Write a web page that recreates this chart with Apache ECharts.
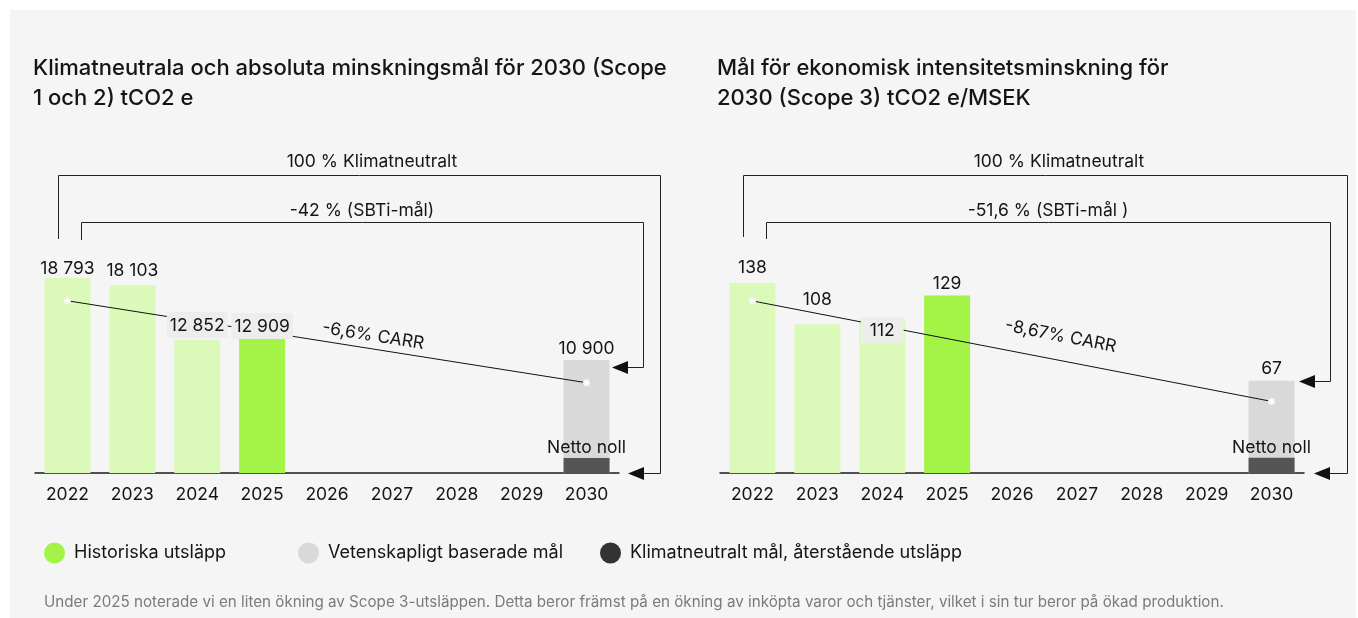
<!DOCTYPE html>
<html lang="sv">
<head>
<meta charset="utf-8">
<title>Klimatmål 2030</title>
<script src="https://cdn.jsdelivr.net/npm/echarts@6/dist/echarts.min.js"></script>
<style>
  html, body { margin: 0; padding: 0; background: #ffffff; }
  #panel { position: absolute; left: 10px; top: 10px; width: 1346px; height: 608px; background: #f5f5f5; }
  #chart { position: absolute; left: 0; top: 0; width: 1358px; height: 618px; }
</style>
</head>
<body>
<div id="panel"></div>
<div id="chart"></div>
<script>
// Years on the x axis
const years = ['2022', '2023', '2024', '2025', '2026', '2027', '2028', '2029', '2030'];

// Scope 1 och 2, tCO2e
const scope12Historic = [18793, 18103, 12852, 12909, null, null, null, null, null];
const scope12Target   = [null, null, null, null, null, null, null, null, 10900];
const scope12Residual = [null, null, null, null, null, null, null, null, 1450];
const scope12Trend    = [16600, null, null, null, null, null, null, null, 8700];

// Scope 3, tCO2e/MSEK
const scope3Historic = [138, 108, 112, 129, null, null, null, null, null];
const scope3Target   = [null, null, null, null, null, null, null, null, 67];
const scope3Residual = [null, null, null, null, null, null, null, null, 11];
const scope3Trend    = [125, null, null, null, null, null, null, null, 52];

// Texts
const titles = [
  'Klimatneutrala och absoluta minskningsmål för 2030 (Scope\n1 och 2) tCO2 e',
  'Mål för ekonomisk intensitetsminskning för\n2030 (Scope 3) tCO2 e/MSEK'
];
const neutralText = '100 % Klimatneutralt';
const sbtiTexts = ['-42 % (SBTi-mål)', '-51,6 % (SBTi-mål )'];
const carrTexts = ['-6,6% CARR', '-8,67% CARR'];
const residualLabel = 'Netto noll';
const seriesNames = ['Historiska utsläpp', 'Vetenskapligt baserade mål', 'Klimatneutralt mål, återstående utsläpp'];
const footnote = 'Under 2025 noterade vi en liten ökning av Scope 3-utsläppen. Detta beror främst på en ökning av inköpta varor och tjänster, vilket i sin tur beror på ökad produktion.';

const FONT = 'Inter, "Noto Sans", "DejaVu Sans", sans-serif';
const FS = 17.5;
const INK = '#151515';
const GREEN_LIGHT = '#dbfab9';
const GREEN = '#a4f447';
const GREY = '#d9d9d9';
const DARK_BAR = '#555555';
const DARK_LEGEND = '#333333';

function fmt(v) {
  return String(v).replace(/\B(?=(\d{3})+(?!\d))/g, ' ');
}

// Individual label tweaks so labels clear the trend line
const boxedLabel = { backgroundColor: '#ededed', padding: [5, 3, 3, 3] };
const labelTweaks = [
  { 0: { distance: 0 },
    2: Object.assign({ distance: 2 }, boxedLabel),
    3: Object.assign({ distance: 0 }, boxedLabel) },
  { 0: { offset: [0, -1.5] }, 1: { offset: [0, -10.5] },
    2: Object.assign({}, boxedLabel, { position: 'insideTop', distance: 0, offset: [0, -2], padding: [5, 9, 3, 9] }),
    3: { distance: 2.5 } }
];

const baseLabel = { show: true, position: 'top', distance: 5, color: INK, fontFamily: FONT, fontSize: FS };

function historicBars(values) {
  return values.map((v, i) => v === null ? '-' :
    { value: v, itemStyle: { color: years[i] === '2025' ? GREEN : GREEN_LIGHT } });
}

function historicLabels(values, tweaks) {
  return values.map((v, i) => {
    if (v === null) return '-';
    const item = { value: v };
    if (tweaks[i]) item.label = tweaks[i];
    return item;
  });
}

function seriesFor(idx, historic, target, residual, trend) {
  const common = { type: 'bar', xAxisIndex: idx, yAxisIndex: idx, barWidth: 46, barGap: '-100%' };
  return [
    Object.assign({}, common, {
      name: seriesNames[0],
      data: historicBars(historic),
      label: { show: false },
      z: 2
    }),
    Object.assign({}, common, {
      name: seriesNames[1],
      data: target.map(v => v === null ? '-' : v),
      itemStyle: { color: GREY },
      label: Object.assign({}, baseLabel, { distance: idx === 0 ? 2.5 : 3.5, formatter: p => fmt(p.value) }),
      z: 2
    }),
    Object.assign({}, common, {
      name: seriesNames[2],
      data: residual.map(v => v === null ? '-' : v),
      itemStyle: { color: DARK_BAR },
      label: Object.assign({}, baseLabel, { distance: 1.5, formatter: residualLabel }),
      z: 2
    }),
    {
      name: 'trend' + idx, type: 'line', xAxisIndex: idx, yAxisIndex: idx,
      data: trend, connectNulls: true,
      symbol: 'emptyCircle', symbolSize: 5, showSymbol: true,
      lineStyle: { color: '#111', width: 1 },
      itemStyle: { color: '#f5f5f5', borderColor: '#111', borderWidth: 1 },
      z: 3, silent: true
    },
    // value labels of the historic bars, kept above the trend line
    Object.assign({}, common, {
      name: 'historicLabels' + idx,
      data: historicLabels(historic, labelTweaks[idx]),
      itemStyle: { color: 'rgba(0,0,0,0)' },
      label: Object.assign({}, baseLabel, { formatter: p => fmt(p.value) }),
      z: 4, silent: true
    })
  ];
}

const gridDefs = [
  { left: 35, top: 265.5, width: 584, height: 207.5 },
  { left: 720, top: 266.5, width: 584, height: 206.5 }
];
const yMax = [20000, 150];

function legendAt(left, idx, color) {
  return {
    left: left, top: 542.5, padding: 0,
    icon: 'circle', itemWidth: 21, itemHeight: 21,
    data: [{ name: seriesNames[idx], itemStyle: { color: color } }],
    textStyle: { color: INK, fontFamily: FONT, fontSize: 18, padding: [0, 0, 0, 4] },
    selectedMode: false
  };
}

const chart = echarts.init(document.getElementById('chart'), null, { renderer: 'canvas' });

chart.setOption({
  backgroundColor: 'transparent',
  animation: false,
  textStyle: { fontFamily: FONT },
  title: [
    { text: titles[0], left: 33, top: 53, padding: 0,
      textStyle: { fontFamily: FONT, fontSize: 22, fontWeight: 500, color: INK, lineHeight: 30 } },
    { text: titles[1], left: 717, top: 53, padding: 0,
      textStyle: { fontFamily: FONT, fontSize: 22, fontWeight: 500, color: INK, lineHeight: 30 } },
    { text: footnote, left: 44, top: 595, padding: 0,
      textStyle: { fontFamily: FONT, fontSize: 15.2, fontWeight: 400, color: '#7b7b7b' } }
  ],
  legend: [
    legendAt(44, 0, GREEN),
    legendAt(298, 1, GREY),
    legendAt(600, 2, DARK_LEGEND)
  ],
  grid: gridDefs,
  xAxis: [0, 1].map(i => ({
    type: 'category', gridIndex: i, data: years,
    axisLine: { show: true, lineStyle: { color: '#1a1a1a', width: 1.5 } },
    axisTick: { show: false },
    axisLabel: { color: INK, fontFamily: FONT, fontSize: FS, margin: 13 }
  })),
  yAxis: [0, 1].map(i => ({
    type: 'value', gridIndex: i, min: 0, max: yMax[i],
    show: false, splitLine: { show: false }
  })),
  series: seriesFor(0, scope12Historic, scope12Target, scope12Residual, scope12Trend)
    .concat(seriesFor(1, scope3Historic, scope3Target, scope3Residual, scope3Trend))
});

// Brackets with arrows pointing at the 2030 target and zero level
function bracket(points, tip) {
  const [tx, ty] = tip;
  return [
    { type: 'polyline', silent: true, shape: { points: points },
      style: { stroke: '#222', lineWidth: 1, fill: null } },
    { type: 'polygon', silent: true,
      shape: { points: [[tx, ty], [tx + 16, ty - 6.5], [tx + 16, ty + 6.5]] },
      style: { fill: '#111' } }
  ];
}

function annotation(text, x, y, extra) {
  return Object.assign({
    type: 'text', silent: true, x: x, y: y, z: 10,
    style: { text: text, fill: INK, font: FS + 'px ' + FONT, align: 'center', verticalAlign: 'middle' }
  }, extra || {});
}

const graphics = [];
graphics.push(...bracket([[58.5, 239], [58.5, 175.5], [660.5, 175.5], [660.5, 473.5], [643, 473.5]], [628, 473.5]));
graphics.push(...bracket([[81.5, 240], [81.5, 222.5], [643.5, 222.5], [643.5, 367.5], [627, 367.5]], [612, 367.5]));
graphics.push(...bracket([[743.5, 237], [743.5, 175.5], [1347.5, 175.5], [1347.5, 473.5], [1330, 473.5]], [1314, 473.5]));
graphics.push(...bracket([[766.5, 239], [766.5, 222.5], [1330.5, 222.5], [1330.5, 381.5], [1314, 381.5]], [1299, 381.5]));

graphics.push(annotation(neutralText, 372, 162));
graphics.push(annotation(sbtiTexts[0], 362, 211));
graphics.push(annotation(neutralText, 1059, 162));
graphics.push(annotation(sbtiTexts[1], 1048, 211));

// CARR labels follow the slope of each trend line
const trends = [scope12Trend, scope3Trend];
const carrLift = [13, 24];
trends.forEach((tr, i) => {
  const p0 = chart.convertToPixel({ gridIndex: i }, [years[0], tr[0]]);
  const p1 = chart.convertToPixel({ gridIndex: i }, [years[years.length - 1], tr[tr.length - 1]]);
  const t = 0.585;
  const mx = p0[0] + (p1[0] - p0[0]) * t;
  const my = p0[1] + (p1[1] - p0[1]) * t;
  const ang = Math.atan2(p1[1] - p0[1], p1[0] - p0[0]);
  const nx = Math.sin(ang) * carrLift[i];
  const ny = -Math.cos(ang) * carrLift[i];
  graphics.push(annotation(carrTexts[i], mx + nx, my + ny, { rotation: -ang }));
});

chart.setOption({ graphic: graphics });
</script>
</body>
</html>
